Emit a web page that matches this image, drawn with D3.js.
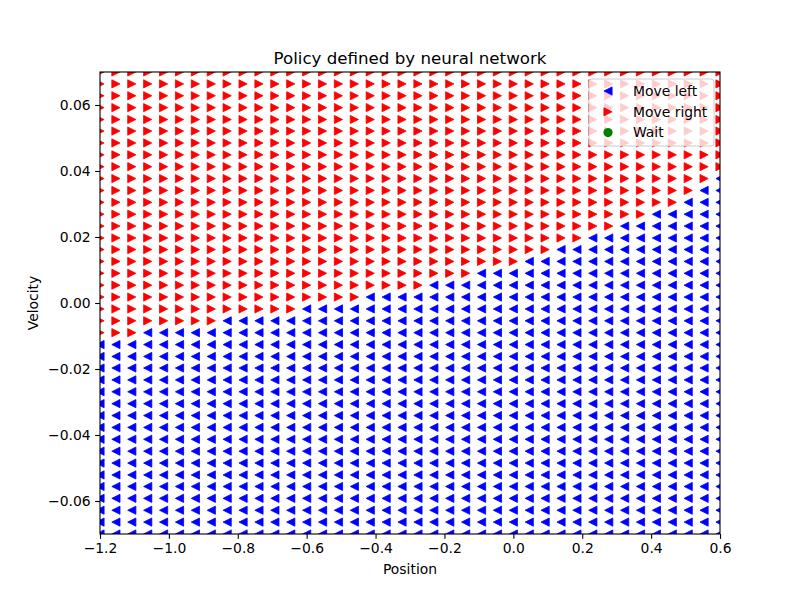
<!DOCTYPE html>
<html>
<head>
<meta charset="utf-8">
<script src="https://cdn.jsdelivr.net/npm/d3@7"></script>
<style>
  body { margin: 0; background: #fff; }
  text { font-family: "DejaVu Sans", sans-serif; }
</style>
</head>
<body>
<div id="chart-area"></div>
<script>
// grid of states the policy was evaluated on
const positions = [
  -1.2000, -1.1538, -1.1077, -1.0615, -1.0154, -0.9692, -0.9231, -0.8769, -0.8308, -0.7846,
  -0.7385, -0.6923, -0.6462, -0.6000, -0.5538, -0.5077, -0.4615, -0.4154, -0.3692, -0.3231,
  -0.2769, -0.2308, -0.1846, -0.1385, -0.0923, -0.0462, 0.0000, 0.0462, 0.0923, 0.1385,
  0.1846, 0.2308, 0.2769, 0.3231, 0.3692, 0.4154, 0.4615, 0.5077, 0.5538, 0.6000
]
const velocities = [
  -0.0700, -0.0664, -0.0628, -0.0592, -0.0556, -0.0521, -0.0485, -0.0449, -0.0413, -0.0377,
  -0.0341, -0.0305, -0.0269, -0.0233, -0.0197, -0.0162, -0.0126, -0.0090, -0.0054, -0.0018,
  0.0018, 0.0054, 0.0090, 0.0126, 0.0162, 0.0197, 0.0233, 0.0269, 0.0305, 0.0341,
  0.0377, 0.0413, 0.0449, 0.0485, 0.0521, 0.0556, 0.0592, 0.0628, 0.0664, 0.0700
]
// per position column: velocity above which the network picks "move right"
const rightAbove = [
  -0.0108, -0.0108, -0.0108, -0.0072, -0.0072, -0.0072, -0.0072, -0.0072, -0.0036, -0.0036,
  -0.0036, -0.0036, -0.0036, 0.0000, 0.0000, 0.0000, 0.0000, 0.0036, 0.0036, 0.0036,
  0.0036, 0.0072, 0.0072, 0.0072, 0.0108, 0.0108, 0.0108, 0.0144, 0.0144, 0.0180,
  0.0180, 0.0215, 0.0215, 0.0251, 0.0251, 0.0287, 0.0287, 0.0323, 0.0359, 0.0395
]
const xTicks = [-1.2, -1.0, -0.8, -0.6, -0.4, -0.2, 0.0, 0.2, 0.4, 0.6]
const yTicks = [-0.06, -0.04, -0.02, 0.00, 0.02, 0.04, 0.06]
const actions = ['Move left', 'Move right', 'Wait']
const colors = { 'Move left': '#0000ff', 'Move right': '#ff0000', 'Wait': '#008000' }

const margin = { left: 100, right: 80, top: 72, bottom: 66 }
const width = 800 - (margin.left + margin.right)
const height = 600 - (margin.top + margin.bottom)

const svg = d3.select('#chart-area').append('svg')
    .attr('width', 800)
    .attr('height', 600)

const g = svg.append('g')
    .attr('transform', `translate(${margin.left}, ${margin.top})`)

const xScale = d3.scaleLinear().domain([-1.2, 0.6]).range([0, width])
const yScale = d3.scaleLinear().domain([-0.07, 0.07]).range([height, 0])

g.append('clipPath').attr('id', 'plot-clip')
    .append('rect').attr('width', width).attr('height', height)

// build the point list from the grid
const points = []
positions.forEach((p, i) => {
    velocities.forEach(v => {
        points.push({ p, v, action: v > rightAbove[i] ? 'Move right' : 'Move left' })
    })
})

const h = 4.1
const shapes = {
    'Move left': `M${-h},0L${h},${h}L${h},${-h}Z`,
    'Move right': `M${h},0L${-h},${h}L${-h},${-h}Z`
}

const marks = g.append('g').attr('clip-path', 'url(#plot-clip)')

actions.slice(0, 2).forEach(a => {
    marks.append('g').selectAll('path')
        .data(points.filter(d => d.action === a))
        .enter()
        .append('path')
        .attr('d', shapes[a])
        .attr('transform', d => `translate(${xScale(d.p)}, ${yScale(d.v)})`)
        .attr('fill', colors[a])
        .attr('stroke', colors[a])
        .attr('stroke-width', 0.8)
})

// axes
const xAxisGroup = g.append('g')
    .attr('transform', `translate(0, ${height})`)
    .call(d3.axisBottom(xScale).tickValues(xTicks).tickFormat(d3.format('.1f'))
        .tickSize(4.86).tickPadding(4.5))
const yAxisGroup = g.append('g')
    .call(d3.axisLeft(yScale).tickValues(yTicks).tickFormat(d3.format('.2f'))
        .tickSize(4.86).tickPadding(4.5))

;[xAxisGroup, yAxisGroup].forEach(ax => {
    ax.select('.domain').remove()
    ax.selectAll('line').attr('stroke', '#000').attr('stroke-width', 1.1)
    ax.selectAll('text')
        .attr('font-size', '13.9px')
        .attr('fill', '#000')
        .style('font-family', '"DejaVu Sans", sans-serif')
})

g.append('rect')
    .attr('width', width)
    .attr('height', height)
    .attr('fill', 'none')
    .attr('stroke', '#000')
    .attr('stroke-width', 1.1)

// labels
g.append('text')
    .attr('x', width / 2)
    .attr('y', -8.5)
    .attr('font-size', '16.67px')
    .attr('text-anchor', 'middle')
    .text('Policy defined by neural network')

g.append('text')
    .attr('x', width / 2)
    .attr('y', height + 40)
    .attr('font-size', '13.9px')
    .attr('text-anchor', 'middle')
    .text('Position')

g.append('text')
    .attr('x', -height / 2)
    .attr('y', -62)
    .attr('font-size', '13.9px')
    .attr('text-anchor', 'middle')
    .attr('transform', 'rotate(-90)')
    .text('Velocity')

// legend
const legend = svg.append('g').attr('transform', 'translate(589, 79)')
legend.append('rect')
    .attr('width', 125)
    .attr('height', 67)
    .attr('rx', 3)
    .attr('fill', '#fff')
    .attr('fill-opacity', 0.8)
    .attr('stroke', '#cccccc')
    .attr('stroke-width', 1)

actions.forEach((a, i) => {
    const row = legend.append('g').attr('transform', `translate(19, ${12 + i * 20.8})`)
    if (a === 'Wait') {
        row.append('circle').attr('r', 4.6).attr('fill', colors[a])
    } else {
        row.append('path')
            .attr('d', shapes[a])
            .attr('fill', colors[a])
            .attr('stroke', colors[a])
            .attr('stroke-width', 0.8)
    }
    row.append('text')
        .attr('x', 25)
        .attr('dy', '0.35em')
        .attr('font-size', '13.9px')
        .text(a)
})
</script>
</body>
</html>
